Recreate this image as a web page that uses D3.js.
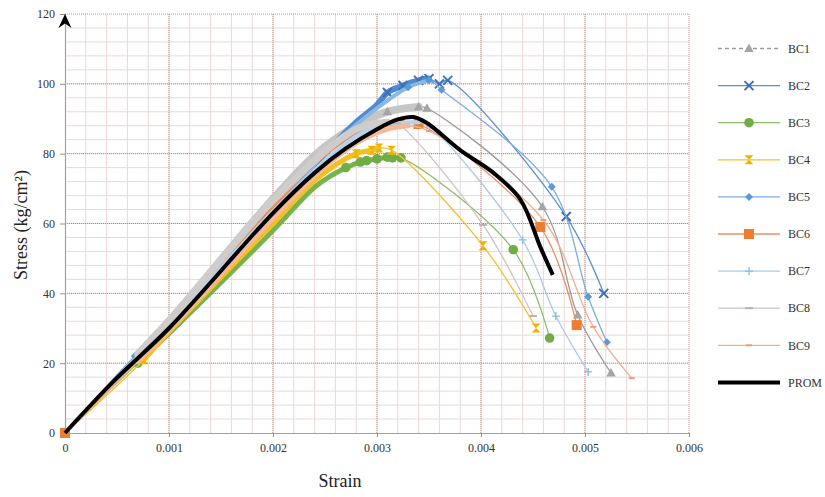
<!DOCTYPE html>
<meta charset="utf-8">
<style>
body { margin: 0; background: #fff; }
svg { font-family: "Liberation Serif", "Times New Roman", serif; }
.axis .domain { stroke: #b29a9a; stroke-width: 1.2; }
.axis .tick line { stroke: #9c8a8a; }
.axis text { font-size: 12px; fill: #333; font-family: "Liberation Serif", serif; }
</style>
<svg width="825" height="497"></svg>
<script src="https://cdn.jsdelivr.net/npm/d3@7"></script>
<script>

// strain vs stress (kg/cm2)
var bc1 = [[0,0],[0.0007,22.5],[0.001,32],[0.002,67],[0.00242,80],[0.0028,88],[0.0031,92],[0.0034,93.4],[0.00348,93],[0.00459,64.8],[0.00493,33.8],[0.00525,17.2]];
var bc2 = [[0,0],[0.0007,22],[0.001,31],[0.002,64],[0.0025,80],[0.0028,89],[0.003,94],[0.0031,97.5],[0.00325,99.5],[0.0034,101],[0.0035,101.5],[0.0036,100],[0.00368,101],[0.00482,62],[0.00518,40]];
var bc3 = [[0,0],[0.0007,20],[0.001,28.5],[0.002,58],[0.00242,70.9],[0.0027,76],[0.00284,77.6],[0.0029,78],[0.003,78.5],[0.0031,79],[0.00315,78.8],[0.00323,78.8],[0.00431,52.5],[0.00466,27.2]];
var bc4 = [[0,0],[0.00076,21],[0.001,29],[0.002,60],[0.00242,72.8],[0.0028,80],[0.00295,81],[0.00302,81.6],[0.00314,81],[0.00402,53.6],[0.00453,30.1]];
var bc5 = [[0,0],[0.00067,22],[0.001,31],[0.002,64],[0.0026,83],[0.003,93],[0.0033,99],[0.0035,101],[0.00362,98.3],[0.00468,70.5],[0.00503,39],[0.00521,26]];
var bc6 = [[0,0],[0.0007,21],[0.001,31],[0.002,65],[0.00242,78],[0.0028,86],[0.0031,88.5],[0.00325,89],[0.0034,88.5],[0.00457,59],[0.00492,30.9]];
var bc7 = [[0,0],[0.0007,21.5],[0.001,30.5],[0.002,63.5],[0.0028,85],[0.0031,88.5],[0.0034,89],[0.00351,87.7],[0.0044,55.3],[0.00472,33.5],[0.00503,17.5]];
var bc8 = [[0,0],[0.0007,22.5],[0.001,32],[0.002,66.5],[0.0028,87],[0.0031,89],[0.00319,88.7],[0.00402,59.6],[0.0045,33.5]];
var bc9 = [[0,0],[0.0007,20.5],[0.001,29.5],[0.002,61.5],[0.00242,74.2],[0.0028,83],[0.0031,87],[0.0033,88],[0.0035,86.5],[0.0046,61],[0.00508,30.4],[0.00545,15.7]];
var prom = [[0,0],[0.00048,15.2],[0.001,30],[0.002,63],[0.0024,74.5],[0.0027,81.5],[0.003,87],[0.0032,89.8],[0.00335,90.5],[0.00348,88.8],[0.0038,81],[0.00412,74.5],[0.00438,66.8],[0.00457,53.3],[0.00469,45.3]];

var names = ["BC1","BC2","BC3","BC4","BC5","BC6","BC7","BC8","BC9","PROM"];
var xTicks = [0,0.001,0.002,0.003,0.004,0.005,0.006];
var yTicks = [0,20,40,60,80,100,120];

var series = [
  {name: names[0], data: bc1, color: "#9a9a9a", mcolor: "#a5a5a5", marker: "triangle", band: 8, bandColor: "#c6c6c6", dash: "4,3", peakMarks: true},
  {name: names[1], data: bc2, color: "#5b91cf", mcolor: "#3f6fb5", marker: "x", band: 6, bandColor: "#4f8bd0", peakMarks: true},
  {name: names[2], data: bc3, color: "#8cbf6a", mcolor: "#70ad47", marker: "circle", band: 5, bandColor: "#78b24e", peakMarks: true, startMark: true},
  {name: names[3], data: bc4, color: "#f2c232", mcolor: "#f0b400", marker: "hourglass", band: 5, bandColor: "#f2c020", peakMarks: true, startMark: true},
  {name: names[4], data: bc5, color: "#7eaede", mcolor: "#5b9bd5", marker: "diamond", band: 4, bandColor: "#8ab8e4", peakMarks: true, startMark: true},
  {name: names[5], data: bc6, color: "#e99060", mcolor: "#ed7d31", marker: "square", band: 5, bandColor: "#e8884a"},
  {name: names[6], data: bc7, color: "#a9cbeb", mcolor: "#8fb8e2", marker: "plus", band: 4, bandColor: "#b3d2ef"},
  {name: names[7], data: bc8, color: "#cdc3c3", mcolor: "#bdb0b0", marker: "dash", band: 7, bandColor: "#d0cccc"},
  {name: names[8], data: bc9, color: "#f2b094", mcolor: "#ee9a80", marker: "smalldash", band: 5, bandColor: "#f5b89a"},
  {name: names[9], data: prom, color: "#000", marker: null, band: 0, width: 4}
];

var svg = d3.select("svg");

var x = d3.scaleLinear().domain([0, 0.006]).range([65, 689]);
var y = d3.scaleLinear().domain([0, 120]).range([433, 14]);

// grid
var grid = svg.append("g");
grid.selectAll(".vminor").data(d3.range(0.0002, 0.006, 0.0002))
  .enter().append("line")
    .attr("x1", function(d) { return x(d); }).attr("x2", function(d) { return x(d); })
    .attr("y1", y(0)).attr("y2", y(120))
    .attr("stroke", "#ead8d8").attr("stroke-width", 1);
grid.selectAll(".hminor").data(d3.range(4, 120, 4))
  .enter().append("line")
    .attr("y1", function(d) { return y(d); }).attr("y2", function(d) { return y(d); })
    .attr("x1", x(0)).attr("x2", x(0.006))
    .attr("stroke", "#ead8d8").attr("stroke-width", 1);
grid.selectAll(".vmajor").data(xTicks.slice(1))
  .enter().append("line")
    .attr("x1", function(d) { return x(d); }).attr("x2", function(d) { return x(d); })
    .attr("y1", y(0)).attr("y2", y(120))
    .attr("stroke", "#b98c8c").attr("stroke-width", 1).attr("stroke-dasharray", "1,1");
grid.selectAll(".hmajor").data(yTicks.slice(1))
  .enter().append("line")
    .attr("y1", function(d) { return y(d); }).attr("y2", function(d) { return y(d); })
    .attr("x1", x(0)).attr("x2", x(0.006))
    .attr("stroke", "#b98c8c").attr("stroke-width", 1).attr("stroke-dasharray", "1,1");

// axes
svg.append("g")
    .attr("class", "axis")
    .attr("transform", "translate(0," + y(0) + ")")
    .call(d3.axisBottom(x).tickValues(xTicks).tickSize(4).tickPadding(6)
      .tickFormat(function(d) { return d === 0 ? "0" : d3.format(".3f")(d); }));

svg.append("g")
    .attr("class", "axis")
    .attr("transform", "translate(" + x(0) + ",0)")
    .call(d3.axisLeft(y).tickValues(yTicks).tickSize(5).tickPadding(5));

// arrow head on y axis
svg.append("path")
    .attr("transform", "translate(" + x(0) + "," + y(120) + ")")
    .attr("d", "M0,0 L6.5,14 L0,9.5 L-6.5,14 Z")
    .attr("fill", "#000");

// curves
var line = d3.line()
    .x(function(d) { return x(d[0]); })
    .y(function(d) { return y(d[1]); })
    .curve(d3.curveCatmullRom.alpha(0.5));

function markerPath(type, s) {
  switch (type) {
    case "triangle": return "M0," + (-s) + "L" + (s * 0.95) + "," + (s * 0.7) + "L" + (-s * 0.95) + "," + (s * 0.7) + "Z";
    case "x": return "M" + (-s) + "," + (-s) + "L" + s + "," + s + "M" + s + "," + (-s) + "L" + (-s) + "," + s;
    case "hourglass": return "M" + (-s) + "," + (-s) + "L" + s + "," + (-s) + "L" + (-s) + "," + s + "L" + s + "," + s + "Z";
    case "diamond": return "M0," + (-s) + "L" + s + ",0L0," + s + "L" + (-s) + ",0Z";
    case "square": return "M" + (-s) + "," + (-s) + "h" + (2 * s) + "v" + (2 * s) + "h" + (-2 * s) + "Z";
    case "plus": return "M" + (-s) + ",0H" + s + "M0," + (-s) + "V" + s;
    case "dash": return "M" + (-s) + ",0H" + s;
    case "smalldash": return "M" + (-s) + ",0H" + s;
  }
}
var msize = {triangle: 5, x: 4.5, hourglass: 4.5, diamond: 4, square: 5, plus: 4, dash: 4, smalldash: 3};
var stroked = {x: 2, plus: 1.3, dash: 2, smalldash: 2};

function drawMarker(g, type, color, cx, cy) {
  if (type === "circle") {
    g.append("circle").attr("cx", cx).attr("cy", cy).attr("r", 4.8).attr("fill", color);
    return;
  }
  var p = g.append("path")
      .attr("transform", "translate(" + cx + "," + cy + ")")
      .attr("d", markerPath(type, msize[type]));
  if (stroked[type]) p.attr("fill", "none").attr("stroke", color).attr("stroke-width", stroked[type]);
  else p.attr("fill", color);
}

var plot = svg.append("g");
series.forEach(function(s) {
  var g = plot.append("g");
  var peak = d3.maxIndex(s.data, function(d) { return d[1]; });
  var peakVal = s.data[peak][1];
  g.append("path")
      .datum(s.data)
      .attr("d", line)
      .attr("fill", "none")
      .attr("stroke", s.color)
      .attr("stroke-width", s.width || 1.3)
      .attr("stroke-linejoin", "round");
  if (s.band) {
    g.append("path")
        .datum(s.data.slice(1, peak + 1))
        .attr("d", line)
        .attr("fill", "none")
        .attr("stroke", s.bandColor)
        .attr("stroke-width", s.band)
        .attr("stroke-linecap", "round")
        .attr("stroke-linejoin", "round");
  }
  if (s.marker) {
    s.data.forEach(function(d, i) {
      var show = i > peak ||
        (i === 0 && s.name === "BC6") ||
        (i === 1 && s.startMark) ||
        (s.peakMarks && i > 1 && d[1] >= peakVal - 4);
      if (show) drawMarker(g, s.marker, s.mcolor, x(d[0]), y(d[1]));
    });
  }
});

// legend
var legend = svg.append("g")
  .selectAll("g")
  .data(series)
  .enter().append("g")
    .attr("transform", function(d, i) { return "translate(0," + (48.5 + i * 37.1) + ")"; });

legend.append("line")
    .attr("x1", 718).attr("x2", 780)
    .attr("stroke", function(d) { return d.color; })
    .attr("stroke-width", function(d) { return d.width || 1.3; })
    .attr("stroke-dasharray", function(d) { return d.dash || null; });

legend.each(function(d) {
  if (d.marker) drawMarker(d3.select(this), d.marker, d.mcolor, 749, 0);
});

legend.append("text")
    .attr("x", 788)
    .attr("dy", "0.35em")
    .attr("font-size", 12)
    .attr("fill", "#333")
    .text(function(d) { return d.name; });

// axis titles
svg.append("text")
    .attr("x", 340).attr("y", 487)
    .attr("text-anchor", "middle")
    .attr("font-size", 18)
    .attr("fill", "#222")
    .text("Strain");

svg.append("text")
    .attr("transform", "translate(27,225) rotate(-90)")
    .attr("text-anchor", "middle")
    .attr("font-size", 18)
    .attr("fill", "#222")
    .text("Stress (kg/cm²)");

</script>
